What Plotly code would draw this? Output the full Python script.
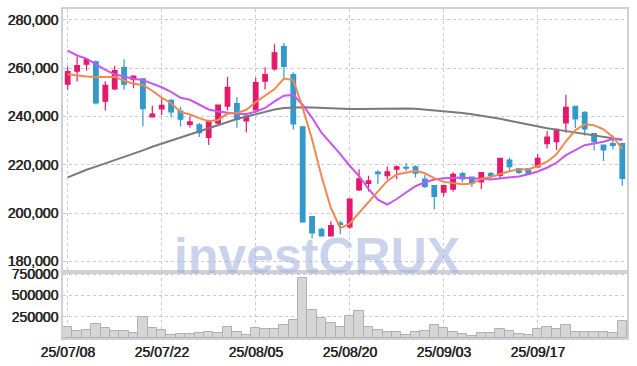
import plotly.graph_objects as go

dates = ["25/07/08","25/07/09","25/07/10","25/07/11","25/07/14","25/07/15","25/07/16","25/07/17","25/07/18","25/07/21",
         "25/07/22","25/07/23","25/07/24","25/07/25","25/07/28","25/07/29","25/07/30","25/07/31","25/08/01","25/08/04",
         "25/08/05","25/08/06","25/08/07","25/08/08","25/08/11","25/08/12","25/08/13","25/08/14","25/08/18","25/08/19",
         "25/08/20","25/08/21","25/08/22","25/08/25","25/08/26","25/08/27","25/08/28","25/08/29","25/09/01","25/09/02",
         "25/09/03","25/09/04","25/09/05","25/09/08","25/09/09","25/09/10","25/09/11","25/09/12","25/09/15","25/09/16",
         "25/09/17","25/09/18","25/09/19","25/09/22","25/09/23","25/09/24","25/09/25","25/09/26","25/09/29","25/09/30"]

open_ = [253400, 258800, 261700, 262700, 246400, 251500, 260300, 255300, 255600, 239900,
         243200, 246700, 242300, 236800, 236600, 231400, 237300, 244300, 245400, 238200,
         242800, 254650, 259700, 269000, 257400, 235800, 198600, 193300, 190600, 195900,
         194300, 209600, 212300, 217000, 215500, 218200, 219000, 219200, 214100, 211400,
         208700, 210000, 216400, 214900, 213000, 216400, 215700, 222000, 218500, 218500,
         219200, 228800, 229600, 237400, 244200, 241800, 233000, 228200, 228800, 228800]
high = [260700, 264800, 264200, 263200, 254600, 261000, 263700, 257000, 255800, 244500,
        247700, 247300, 244100, 240000, 237300, 238700, 245000, 256400, 248000, 240400,
        256100, 260400, 270000, 270500, 258400, 236000, 198800, 194000, 196700, 196900,
        206200, 218200, 215500, 217800, 219300, 219900, 220700, 219900, 215900, 211600,
        211700, 217000, 217200, 215000, 217000, 217100, 222900, 223000, 218700, 218700,
        224400, 234000, 235100, 249000, 244400, 242200, 233200, 228400, 232300, 229000]
low = [251100, 254500, 259100, 245000, 242500, 251000, 251100, 251700, 235900, 239600,
       240600, 239600, 235900, 235500, 231500, 228200, 236800, 242600, 235400, 233400,
       242400, 251200, 259000, 255000, 234700, 196000, 189500, 190300, 190300, 191300,
       193600, 209200, 209000, 212100, 214100, 214100, 217500, 214800, 210300, 201500,
       207000, 209000, 212700, 210800, 209900, 214400, 214100, 217300, 216200, 215900,
       218800, 226800, 226200, 233300, 235300, 232200, 226000, 221600, 226400, 211400]
close = [258600, 261100, 263600, 245700, 252900, 259000, 253400, 256800, 243300, 241000,
         244700, 241900, 238900, 237800, 233400, 238200, 244800, 252100, 238850, 240200,
         254100, 257400, 266400, 260800, 237000, 196400, 191800, 190600, 194900, 195400,
         205800, 214200, 213400, 216400, 217100, 219200, 218700, 216600, 211100, 207000,
         211400, 216100, 214200, 212500, 216800, 215500, 222700, 219300, 216900, 216200,
         222700, 231500, 234700, 243800, 239000, 234900, 229600, 226200, 228100, 214400]
volume = [125000, 80000, 94000, 162000, 113000, 82000, 82000, 57000, 245000, 113000,
          94000, 31000, 47000, 47000, 59000, 67000, 55000, 125000, 74000, 31000,
          114000, 102000, 102000, 150000, 209000, 700000, 324000, 235000, 172000, 129000,
          258000, 322000, 125000, 92000, 67000, 67000, 40000, 67000, 82000, 152000,
          114000, 67000, 43000, 29000, 55000, 55000, 104000, 80000, 43000, 33000,
          104000, 125000, 102000, 149000, 67000, 67000, 67000, 67000, 55000, 196000]

ma5 = [257500, 256900, 256600, 256400, 256380, 256460, 254920, 253560, 253080, 250700,
       247840, 245540, 241960, 240860, 239340, 238040, 238620, 241260, 241470, 242830,
       246010, 248530, 251390, 255780, 255140, 243600, 230480, 215320, 202140, 193820,
       195700, 200180, 204740, 209040, 213380, 216060, 216960, 217600, 216540, 214520,
       212960, 212440, 211960, 212240, 214200, 215020, 216340, 217360, 218240, 218120,
       219560, 221320, 224400, 229780, 234340, 236780, 236400, 234700, 231560, 226640]
ma10 = [267300, 265300, 264000, 261800, 259300, 257500, 256500, 255700, 255100, 253540,
        252150, 250230, 247760, 246970, 245020, 242940, 242080, 241610, 241165, 241085,
        242025, 243575, 246325, 248625, 248985, 244805, 239505, 233355, 228960, 224480,
        219650, 215330, 210030, 205590, 203600, 205880, 208570, 211170, 212790, 213950,
        214510, 214700, 214780, 214390, 214360, 213990, 214390, 214660, 215240, 216160,
        217290, 218830, 220880, 224010, 226230, 228170, 228860, 229550, 230670, 230490]
ma60 = [214800, 216500, 218000, 219300, 220600, 222000, 223300, 224700, 226000, 227500,
        228800, 230000, 231300, 232600, 234000, 235300, 236600, 237900, 239000, 240000,
        241000, 242000, 242900, 243600, 243900, 243900, 243800, 243600, 243400, 243200,
        243100, 243100, 243200, 243400, 243500, 243500, 243400, 243200, 242900, 242600,
        242300, 241900, 241500, 241000, 240400, 239800, 239100, 238300, 237500, 236600,
        235900, 235200, 234600, 234000, 233400, 232800, 232200, 231600, 231000, 230400]

price_ticks = [180000, 200000, 220000, 240000, 260000, 280000]
vol_ticks = [250000, 500000, 750000]
label_dates = dates[::10]

UP = "#e5196b"
DOWN = "#3399cc"
FONT = "Liberation Sans Narrow, Arial Narrow, sans-serif"

fig = go.Figure()
fig.add_trace(go.Candlestick(
    x=dates, open=open_, high=high, low=low, close=close,
    increasing=dict(line=dict(color=UP, width=1.2), fillcolor=UP),
    decreasing=dict(line=dict(color=DOWN, width=1.2), fillcolor=DOWN),
    whiskerwidth=0, xaxis="x", yaxis="y", showlegend=False, hoverinfo="skip"))
fig.add_trace(go.Scatter(x=dates, y=ma60, mode="lines", line=dict(color="#7a7a7a", width=2), xaxis="x", yaxis="y", showlegend=False))
fig.add_trace(go.Scatter(x=dates, y=ma10, mode="lines", line=dict(color="#c955ee", width=2), xaxis="x", yaxis="y", showlegend=False))
fig.add_trace(go.Scatter(x=dates, y=ma5, mode="lines", line=dict(color="#ee8a50", width=2), xaxis="x", yaxis="y", showlegend=False))
fig.add_trace(go.Bar(x=dates, y=volume, width=1.0, marker=dict(color="#d6d6d6", line=dict(color="#b0b0b0", width=1)),
                     xaxis="x2", yaxis="y2", showlegend=False))

split = (338 - 272) / 329
grid = dict(showgrid=True, gridcolor="#c8c8dc", griddash="dot", gridwidth=1)
line = dict(showline=True, linecolor="#d0d0d4", linewidth=2, mirror=True)
tickfont = dict(family=FONT, size=14, color="#222222", shadow="0.6px 0px 0px #222222")

fig.update_layout(
    width=637, height=366, margin=dict(l=63, r=10, t=9, b=28, autoexpand=False),
    plot_bgcolor="white", paper_bgcolor="white", bargap=0,
    xaxis=dict(type="category", domain=[0, 1], anchor="y", range=[-0.5, 59.5], rangeslider=dict(visible=False),
               tickvals=label_dates, showticklabels=False, ticks="", zeroline=False, automargin=False, **grid, **line),
    xaxis2=dict(type="category", domain=[0, 1], anchor="y2", range=[-0.5, 59.5], matches="x", automargin=False,
                tickvals=label_dates, ticktext=label_dates, ticks="", tickfont=tickfont, zeroline=False, **grid, **line),
    yaxis=dict(domain=[split, 1], range=[175650, 284550], tickvals=price_ticks, tickformat=",d", ticks="", automargin=False,
               tickfont=tickfont, zeroline=False, **grid, **line),
    yaxis2=dict(domain=[0, split], range=[0, 775000], tickvals=vol_ticks, tickformat="d", ticks="", automargin=False,
                tickfont=tickfont, zeroline=False, **grid, **line),
    annotations=[dict(text="<b>investCRUX</b>", xref="paper", yref="paper", x=(316.5 - 63) / 564, y=(338 - 255.5) / 329,
                      xanchor="center", yanchor="middle", showarrow=False,
                      font=dict(family="Liberation Sans, Arial, sans-serif", size=50, color="rgba(160,174,220,0.55)"))],
)

fig.write_html("out.html")
